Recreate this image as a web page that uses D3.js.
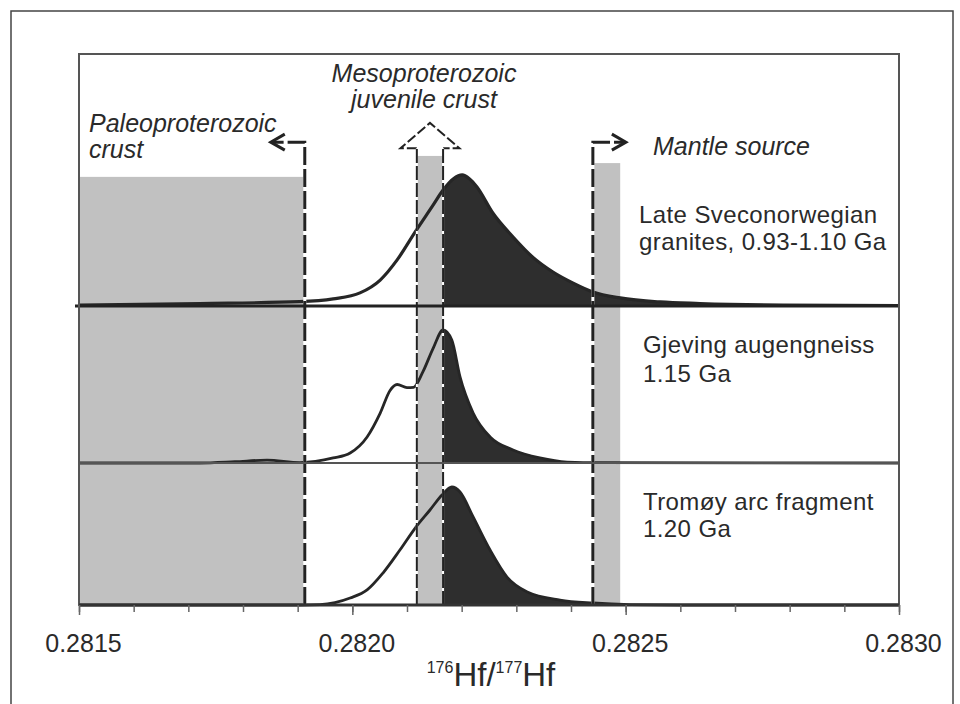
<!DOCTYPE html>
<html>
<head>
<meta charset="utf-8">
<script src="https://cdn.jsdelivr.net/npm/d3@7"></script>
<style>
  body { margin: 0; background: #fff; }
  svg { display: block; }
  text { font-family: Arial, "Liberation Sans", Helvetica, sans-serif; fill: #2a2a2a; }
</style>
</head>
<body>
<svg id="chart" width="960" height="704"></svg>
<script>
// 176Hf/177Hf relative probability curves for three sample groups

const xMajorTicks = [0.2815, 0.2820, 0.2825, 0.2830];
const xTickLabels = ["0.2815", "0.2820", "0.2825", "0.2830"];
const xMinorTicks = [0.2815, 0.2816, 0.2817, 0.2818, 0.2819, 0.2820, 0.2821, 0.2822,
                     0.2823, 0.2824, 0.2825, 0.2826, 0.2827, 0.2828, 0.2829, 0.2830];

const sampleLabels = [
  ["Late Sveconorwegian", "granites, 0.93-1.10 Ga"],
  ["Gjeving augengneiss", "1.15 Ga"],
  ["Tromøy arc fragment", "1.20 Ga"]
];

// [176Hf/177Hf, relative probability]
const sveconorwegian = [
  [0.28150, 0.004], [0.281721, 0.010], [0.281904, 0.017], [0.281965, 0.028],
  [0.282014, 0.052], [0.282051, 0.103], [0.282082, 0.183], [0.282115, 0.294],
  [0.282148, 0.401], [0.282166, 0.460], [0.282185, 0.505], [0.282201, 0.520],
  [0.282214, 0.505], [0.282228, 0.472], [0.282257, 0.369], [0.282294, 0.274],
  [0.282330, 0.194], [0.282367, 0.135], [0.282404, 0.091], [0.282440, 0.056],
  [0.282490, 0.032], [0.282563, 0.016], [0.282636, 0.010], [0.282788, 0.004],
  [0.28300, 0.002]
];

const gjeving = [
  [0.28150, 0.000], [0.281721, 0.000], [0.281785, 0.008], [0.281844, 0.018],
  [0.281904, 0.003], [0.281965, 0.032], [0.281996, 0.064], [0.282027, 0.166],
  [0.282051, 0.318], [0.282069, 0.462], [0.282082, 0.500], [0.282100, 0.480],
  [0.282112, 0.482], [0.282129, 0.580], [0.282148, 0.732], [0.282166, 0.847],
  [0.282182, 0.783], [0.282197, 0.548], [0.282221, 0.318], [0.282252, 0.166],
  [0.282294, 0.083], [0.282343, 0.032], [0.282393, 0.006], [0.282453, 0.002],
  [0.28300, 0.000]
];

const tromoy = [
  [0.28150, 0.000], [0.281904, 0.000], [0.281941, 0.003], [0.281996, 0.049],
  [0.282027, 0.106], [0.282056, 0.225], [0.282087, 0.387], [0.282115, 0.542],
  [0.282142, 0.669], [0.282164, 0.775], [0.282182, 0.831], [0.282197, 0.796],
  [0.282221, 0.620], [0.282252, 0.387], [0.282283, 0.197], [0.282320, 0.092],
  [0.282380, 0.035], [0.282440, 0.014], [0.282508, 0.003], [0.282600, 0.000],
  [0.28300, 0.000]
];

const sampleSeries = [sveconorwegian, gjeving, tromoy];

// reference source fields
const paleoLimit = 0.281913;
const juvenileRange = [0.282118, 0.282166];
const mantleRange = [0.28244, 0.28249];
// shaded field tops, as a fraction of the full plot height
const fieldTops = [0.777, 0.815, 0.802];

const sourceLabels = [
  ["Paleoproterozoic", "crust"],
  ["Mesoproterozoic", "juvenile crust"],
  ["Mantle source"]
];

// ---- layout ----
const plot = { left: 79, right: 899, top: 54, bottom: 605 };
const panelEdges = [[54, 306], [306, 463], [463, 605]];

const svg = d3.select("#chart");

const x = d3.scaleLinear().domain([0.2815, 0.2830]).range([plot.left, plot.right]);
const plotY = d3.scaleLinear().domain([0, 1]).range([plot.bottom, plot.top]);

// outer frame
svg.append("rect")
  .attr("x", 11).attr("y", 11).attr("width", 942).attr("height", 720)
  .attr("fill", "#fff").attr("stroke", "#444").attr("stroke-width", 1.5);

const GRAY = "#c1c1c1";
const DARK = "#2e2e2e";

// shaded source fields
const fields = [
  [0.2815, paleoLimit, fieldTops[0]],
  [juvenileRange[0], juvenileRange[1], fieldTops[1]],
  [mantleRange[0], mantleRange[1], fieldTops[2]]
];
svg.append("g").selectAll("rect").data(fields).join("rect")
  .attr("x", d => x(d[0]))
  .attr("width", d => x(d[1]) - x(d[0]))
  .attr("y", d => plotY(d[2]))
  .attr("height", d => plot.bottom - plotY(d[2]))
  .attr("fill", GRAY);

// probability curves, one per panel; the part above the juvenile field is filled
const defs = svg.append("defs");
sampleSeries.forEach((series, i) => {
  const [top, base] = panelEdges[i];
  const y = d3.scaleLinear().domain([0, 1]).range([base, top]);

  defs.append("clipPath").attr("id", "fill-clip-" + i)
    .append("rect")
    .attr("x", x(juvenileRange[1])).attr("y", top)
    .attr("width", plot.right - x(juvenileRange[1])).attr("height", base - top);

  const area = d3.area().curve(d3.curveMonotoneX)
    .x(d => x(d[0])).y0(base).y1(d => y(d[1]));
  const line = d3.line().curve(d3.curveMonotoneX)
    .x(d => x(d[0])).y(d => y(d[1]));

  svg.append("path").datum(series)
    .attr("d", area)
    .attr("fill", DARK)
    .attr("clip-path", "url(#fill-clip-" + i + ")");

  svg.append("path").datum(series)
    .attr("d", line)
    .attr("fill", "none")
    .attr("stroke", "#262626")
    .attr("stroke-width", i === 0 ? 3.2 : 2.8)
    .attr("stroke-linejoin", "round");
});

// dashed boundary helper: white underlay with dark dashes on top
function dashed(points, width, dash) {
  const ln = d3.line();
  svg.append("path").attr("d", ln(points)).attr("fill", "none")
    .attr("stroke", "#fff").attr("stroke-width", width);
  svg.append("path").attr("d", ln(points)).attr("fill", "none")
    .attr("stroke", "#222").attr("stroke-width", width)
    .attr("stroke-dasharray", dash);
}
function chevron(tipX, tipY, dir) {
  svg.append("path")
    .attr("d", d3.line()([[tipX - dir * 14, tipY - 8], [tipX, tipY], [tipX - dir * 14, tipY + 8]]))
    .attr("fill", "none").attr("stroke", "#222").attr("stroke-width", 3)
    .attr("stroke-linejoin", "miter");
}

const markerTop = plotY(0.840);

// Paleoproterozoic limit, pointing left
const px = x(paleoLimit);
dashed([[px, plot.bottom], [px, markerTop], [px - 33, markerTop]], 3, "18,4");
chevron(px - 34, markerTop, -1);

// Mantle limit, pointing right
const mx = x(mantleRange[0]);
dashed([[mx, plot.bottom], [mx, markerTop], [mx + 32, markerTop]], 3, "18,4");
chevron(mx + 33, markerTop, 1);

// juvenile crust field: open upward arrow with dashed outline
const j0 = x(juvenileRange[0]), j1 = x(juvenileRange[1]);
const jc = (j0 + j1) / 2;
const shaftTop = plotY(0.829), tipY = plotY(0.875);
const arrowPts = [[j0, shaftTop], [jc - 29.5, shaftTop], [jc, tipY], [jc + 29.5, shaftTop], [j1, shaftTop]];
svg.append("path")
  .attr("d", d3.line()(arrowPts) + "Z")
  .attr("fill", "#fff").attr("stroke", "none");
svg.append("path")
  .attr("d", d3.line()(arrowPts))
  .attr("fill", "none").attr("stroke", "#222").attr("stroke-width", 2)
  .attr("stroke-dasharray", "10,3").attr("stroke-linejoin", "miter");
dashed([[j0, plot.bottom], [j0, shaftTop]], 2, "14,3");
dashed([[j1, plot.bottom], [j1, shaftTop]], 2, "14,3");

// panel dividers
svg.append("line").attr("x1", 75).attr("x2", plot.right)
  .attr("y1", panelEdges[0][1]).attr("y2", panelEdges[0][1])
  .attr("stroke", "#222").attr("stroke-width", 3);
svg.append("line").attr("x1", plot.left).attr("x2", plot.right)
  .attr("y1", panelEdges[1][1]).attr("y2", panelEdges[1][1])
  .attr("stroke", "#555").attr("stroke-width", 1.8);

// plot border
svg.append("rect")
  .attr("x", plot.left).attr("y", plot.top)
  .attr("width", plot.right - plot.left).attr("height", plot.bottom - plot.top)
  .attr("fill", "none").attr("stroke", "#555").attr("stroke-width", 2);
svg.append("line").attr("x1", plot.left).attr("x2", plot.right)
  .attr("y1", plot.bottom).attr("y2", plot.bottom)
  .attr("stroke", "#333").attr("stroke-width", 3);

// x axis
const minorAxis = svg.append("g").attr("transform", `translate(0,${plot.bottom})`)
  .call(d3.axisBottom(x).tickValues(xMinorTicks).tickSize(7).tickFormat(""));
minorAxis.select(".domain").remove();
minorAxis.selectAll("line").attr("stroke", "#666").attr("stroke-width", 1.5);

const majorAxis = svg.append("g").attr("transform", `translate(0,${plot.bottom})`)
  .call(d3.axisBottom(x).tickValues(xMajorTicks).tickSize(10)
    .tickFormat((d, i) => xTickLabels[i]));
majorAxis.select(".domain").remove();
majorAxis.selectAll("line").attr("stroke", "#666").attr("stroke-width", 1.5);
majorAxis.selectAll("text")
  .attr("y", 47).attr("dy", 0).attr("dx", 4)
  .style("font-size", "25px").style("font-family", "Arial, 'Liberation Sans', sans-serif")
  .attr("fill", "#2a2a2a");

// axis title 176Hf/177Hf
const title = svg.append("text").attr("x", 491).attr("y", 686)
  .attr("text-anchor", "middle").style("font-size", "33px");
title.append("tspan").text("176").style("font-size", "16px").attr("dy", -13);
title.append("tspan").text("Hf/").attr("dy", 13);
title.append("tspan").text("177").style("font-size", "16px").attr("dy", -13);
title.append("tspan").text("Hf").attr("dy", 13);

// sample labels
const sampleLabelPos = [[639, 223, 27], [643, 353, 29], [643, 510, 27]];
sampleLabels.forEach((lines, i) => {
  const [lx, ly, lh] = sampleLabelPos[i];
  lines.forEach((t, k) => {
    svg.append("text").attr("x", lx).attr("y", ly + k * lh)
      .style("font-size", "24px").style("letter-spacing", "0.4px").text(t);
  });
});

// source field labels
const sourceLabelPos = [[89, 132, "start"], [424, 82, "middle"], [653, 155, "start"]];
sourceLabels.forEach((lines, i) => {
  const [lx, ly, anchor] = sourceLabelPos[i];
  lines.forEach((t, k) => {
    svg.append("text").attr("x", lx).attr("y", ly + k * 26)
      .attr("text-anchor", anchor)
      .style("font-size", "25px").style("font-style", "italic").text(t);
  });
});
</script>
</body>
</html>
